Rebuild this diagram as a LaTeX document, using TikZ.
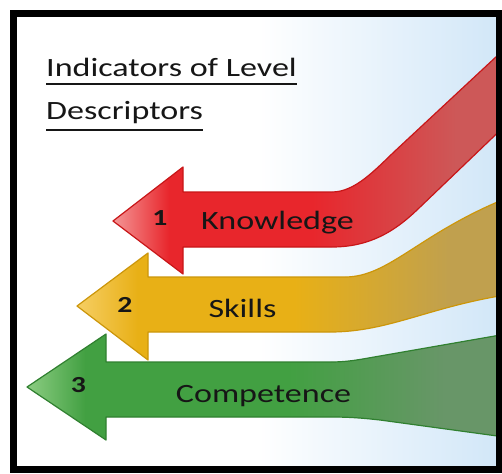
\documentclass[tikz,border=0pt]{standalone}
\usepackage{fontspec}
\setmainfont[FakeStretch=1.29]{Carlito}
\usetikzlibrary{fadings}

\definecolor{txt}{RGB}{22,22,22}
\definecolor{bgblue}{RGB}{210,231,248}
\definecolor{redtip}{RGB}{244,150,150}
\definecolor{redmain}{RGB}{232,38,44}
\definecolor{redend}{RGB}{205,88,88}
\definecolor{rededge}{RGB}{200,22,24}
\definecolor{goldtip}{RGB}{246,206,100}
\definecolor{goldmain}{RGB}{232,176,22}
\definecolor{goldend}{RGB}{192,160,78}
\definecolor{goldedge}{RGB}{204,150,10}
\definecolor{greentip}{RGB}{140,205,130}
\definecolor{greenmain}{RGB}{66,160,66}
\definecolor{greenend}{RGB}{104,150,104}
\definecolor{greenedge}{RGB}{48,128,48}

% backdrop, white on the left and pale blue on the right
\pgfdeclarehorizontalshading{backdrop}{100bp}{color(0bp)=(white); color(25bp)=(white); color(50bp)=(white); color(75bp)=(bgblue); color(100bp)=(bgblue)}
% arrow fills, light at the tip and duller to the right
\pgfdeclarehorizontalshading{redarrow}{100bp}{color(0bp)=(redtip); color(25bp)=(redtip); color(32bp)=(redmain); color(50bp)=(redmain); color(68bp)=(redend); color(100bp)=(redend)}
\pgfdeclarehorizontalshading{goldarrow}{100bp}{color(0bp)=(goldtip); color(25bp)=(goldtip); color(32bp)=(goldmain); color(50bp)=(goldmain); color(68bp)=(goldend); color(100bp)=(goldend)}
\pgfdeclarehorizontalshading{greenarrow}{100bp}{color(0bp)=(greentip); color(25bp)=(greentip); color(31bp)=(greenmain); color(52bp)=(greenmain); color(68bp)=(greenend); color(100bp)=(greenend)}
\tikzfading[name=midband, top color=transparent!100, middle color=transparent!0, bottom color=transparent!100]

\begin{document}
\begin{tikzpicture}[x=1pt, y=-1pt,
    lbl/.style={font=\fontsize{26.4}{30}\selectfont, text=txt, inner sep=0pt},
    num/.style={font=\fontsize{23}{26}\selectfont\bfseries, text=txt, inner sep=0pt},
    uline/.style={line width=2.4pt, txt},
    band/.style={line width=1.2pt, line join=round}]
    \useasboundingbox (0,0) rectangle (502,473);

    % backdrop
    \shade[shading=backdrop] (17,17) rectangle (496,466);
    \fill[white, path fading=midband, fill opacity=0.75] (17,90) rectangle (496,470);

    \begin{scope}
        \clip (17,17) rectangle (496,466);
        % 1
        \shadedraw[band, shading=redarrow, draw=rededge] (113,221) -- (183,167) -- (183,192) -- (332,192)
            .. controls (355,192) and (375,170) .. (395,151) -- (512,42) -- (512,119) -- (417,210)
            .. controls (395,231) and (370,247) .. (332,247) -- (183,247) -- (183,274) -- cycle;
        % 2
        \shadedraw[band, shading=goldarrow, draw=goldedge] (77,306) -- (148,253) -- (148,277) -- (345,277)
            .. controls (390,277) and (420,232) .. (512,196) -- (512,294)
            .. controls (430,306) and (390,332) .. (330,332) -- (148,332) -- (148,360) -- cycle;
        % 3
        \shadedraw[band, shading=greenarrow, draw=greenedge] (27,387) -- (106,334) -- (106,362) -- (330,362)
            .. controls (350,362) and (362,359) .. (380,356) -- (512,333) -- (512,438) -- (380,420)
            .. controls (362,418) and (350,417) .. (330,417) -- (106,417) -- (106,440) -- cycle;
    \end{scope}

    % heading
    \node[lbl, anchor=base west] (title1) at (46,77) {Indicators of Level};
    \node[lbl, anchor=base west] (title2) at (46,120) {Descriptors};
    \draw[uline] ([yshift=-7pt]title1.base west) -- ([yshift=-7pt]title1.base east);
    \draw[uline] ([yshift=-10pt]title2.base west) -- ([yshift=-10pt]title2.base east);

    % labels on the arrows
    \node[num, anchor=base] (n1) at (160,225) {1};
    \node[lbl, anchor=base] (knowledge) at (277.5,229) {Knowledge};
    \node[num, anchor=base] (n2) at (125,312) {2};
    \node[lbl, anchor=base] (skills) at (242.5,317) {Skills};
    \node[num, anchor=base] (n3) at (78.5,392) {3};
    \node[lbl, anchor=base] (competence) at (263.5,402) {Competence};

    \draw[line width=7pt] (13.5,13.5) rectangle (499,469.5);
\end{tikzpicture}
\end{document}
